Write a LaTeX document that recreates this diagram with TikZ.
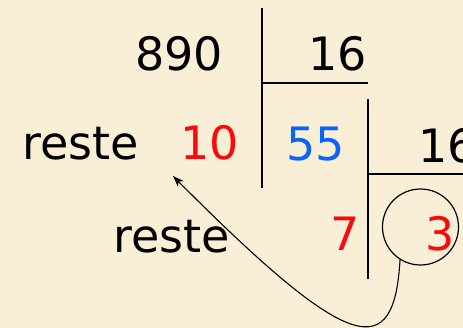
\documentclass[tikz,border=0pt]{standalone}
\usepackage{fontspec}
\setmainfont{DejaVu Sans}
\usetikzlibrary{arrows.meta}
\definecolor{parch}{RGB}{248,239,214}
\definecolor{rouge}{RGB}{250,10,10}
\definecolor{bleu}{RGB}{10,100,250}
\begin{document}
\begin{tikzpicture}[x=1pt,y=-1pt,
  num/.style={font=\fontsize{46}{50}\selectfont, inner sep=0pt, anchor=base},
  rule/.style={line width=1.3pt, black},
  conn/.style={line width=1.1pt, -{Stealth[length=11pt,width=8pt,inset=3pt]}}]
\useasboundingbox (0,0) rectangle (463,328);
\clip (0,0) rectangle (463,328);
\fill[parch] (0,0) rectangle (463,328);
% division lines
\draw[rule] (262,8) -- (262,188);
\draw[rule] (262,83) -- (368,83);
\draw[rule] (368,99) -- (368,279);
\draw[rule] (368,174) -- (470,174);
% texts
\node[num] (a890) at (179,71) {890};
\node[num] (d1) at (338,71) {16};
\node[num] (r1) at (81,160) {reste};
\node[num, text=rouge] (r10) at (210,160) {10};
\node[num, text=bleu] (q55) at (316,161) {55};
\node[num, anchor=base west] (d2) at (418,163) {16};
\node[num] (r2) at (172,253) {reste};
\node[num, text=rouge] (r7) at (345,251) {7};
\node[num, text=rouge] (q3) at (440,251) {3};
% circle
\node[circle, draw, line width=1.2pt, minimum size=76pt, inner sep=0pt] (c3) at (420.5,227) {};
\coordinate (tip) at (173,176);
\draw[conn] (c3.238) .. controls (394,362) and (352,356) .. (tip);
\end{tikzpicture}
\end{document}
